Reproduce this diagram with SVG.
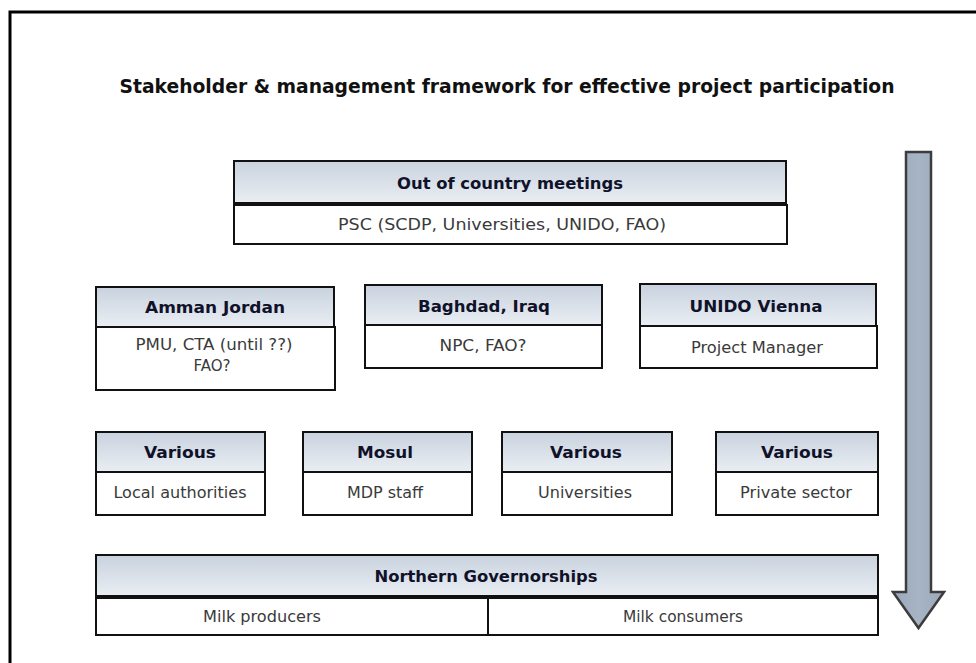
<svg xmlns="http://www.w3.org/2000/svg" width="976" height="663" viewBox="0 0 976 663">
  <defs>
    <linearGradient id="hdr" x1="0" y1="0" x2="0" y2="1">
      <stop offset="0" stop-color="#c8d2de"/>
      <stop offset="1" stop-color="#eaeef3"/>
    </linearGradient>
    <linearGradient id="arrowFill" x1="0" y1="0" x2="1" y2="0">
      <stop offset="0" stop-color="#9aa9bb"/>
      <stop offset="0.5" stop-color="#a7b4c4"/>
      <stop offset="1" stop-color="#9aa9bb"/>
    </linearGradient>
  </defs>
  <style>
    .hd { fill: url(#hdr); stroke: #111; stroke-width: 2; }
    .bd { fill: #fff; stroke: #111; stroke-width: 2; }
    .ht { font-family: "DejaVu Sans Condensed", "DejaVu Sans", sans-serif; font-weight: bold; font-size: 16px; fill: #10122a; text-anchor: middle; }
    .bt { font-family: "DejaVu Sans Condensed", "DejaVu Sans", sans-serif; font-size: 15px; fill: #3a3a3a; text-anchor: middle; }
    .title { font-family: "DejaVu Sans Condensed", "DejaVu Sans", sans-serif; font-weight: bold; font-size: 20px; fill: #111; text-anchor: middle; }
  </style>

  <rect width="976" height="663" fill="#fff"/>
  <!-- outer frame (open to the right and bottom) -->
  <path d="M10,663 V12 H976" fill="none" stroke="#000" stroke-width="3"/>

  <text class="title" x="507" y="93" textLength="775" lengthAdjust="spacingAndGlyphs">Stakeholder  &amp; management  framework for effective  project participation</text>

  <g id="out-of-country">
    <rect class="hd" x="234" y="161" width="552" height="42"/>
    <rect class="bd" x="234" y="205" width="553" height="39"/>
    <text class="ht" x="510" y="189" textLength="226" lengthAdjust="spacingAndGlyphs">Out of country meetings</text>
    <text class="bt" x="502" y="230" textLength="328" lengthAdjust="spacingAndGlyphs">PSC (SCDP, Universities, UNIDO,  FAO)</text>
  </g>

  <g id="amman">
    <rect class="hd" x="96" y="287" width="238" height="40"/>
    <rect class="bd" x="96" y="327" width="239" height="63"/>
    <text class="ht" x="215" y="313" textLength="140" lengthAdjust="spacingAndGlyphs">Amman Jordan</text>
    <text class="bt" x="214" y="350" textLength="157" lengthAdjust="spacingAndGlyphs">PMU, CTA (until ??)</text>
    <text class="bt" x="212" y="371" textLength="37" lengthAdjust="spacingAndGlyphs">FAO?</text>
  </g>

  <g id="baghdad">
    <rect class="hd" x="365" y="285" width="237" height="40"/>
    <rect class="bd" x="365" y="325" width="237" height="43"/>
    <text class="ht" x="484" y="312" textLength="132" lengthAdjust="spacingAndGlyphs">Baghdad, Iraq</text>
    <text class="bt" x="483" y="351" textLength="87" lengthAdjust="spacingAndGlyphs">NPC, FAO?</text>
  </g>

  <g id="unido-vienna">
    <rect class="hd" x="640" y="284" width="236" height="42"/>
    <rect class="bd" x="640" y="326" width="237" height="42"/>
    <text class="ht" x="756" y="312" textLength="133" lengthAdjust="spacingAndGlyphs">UNIDO Vienna</text>
    <text class="bt" x="757" y="353" textLength="132" lengthAdjust="spacingAndGlyphs">Project Manager</text>
  </g>

  <g id="local-authorities">
    <rect class="hd" x="96" y="432" width="169" height="40"/>
    <rect class="bd" x="96" y="472" width="169" height="43"/>
    <text class="ht" x="180" y="458" textLength="72" lengthAdjust="spacingAndGlyphs">Various</text>
    <text class="bt" x="180" y="498" textLength="133" lengthAdjust="spacingAndGlyphs">Local authorities</text>
  </g>

  <g id="mosul">
    <rect class="hd" x="303" y="432" width="169" height="40"/>
    <rect class="bd" x="303" y="472" width="169" height="43"/>
    <text class="ht" x="385" y="458" textLength="56" lengthAdjust="spacingAndGlyphs">Mosul</text>
    <text class="bt" x="385" y="498" textLength="76" lengthAdjust="spacingAndGlyphs">MDP staff</text>
  </g>

  <g id="universities">
    <rect class="hd" x="502" y="432" width="170" height="40"/>
    <rect class="bd" x="502" y="472" width="170" height="43"/>
    <text class="ht" x="586" y="458" textLength="72" lengthAdjust="spacingAndGlyphs">Various</text>
    <text class="bt" x="585" y="498" textLength="94" lengthAdjust="spacingAndGlyphs">Universities</text>
  </g>

  <g id="private-sector">
    <rect class="hd" x="716" y="432" width="162" height="40"/>
    <rect class="bd" x="716" y="472" width="162" height="43"/>
    <text class="ht" x="797" y="458" textLength="72" lengthAdjust="spacingAndGlyphs">Various</text>
    <text class="bt" x="796" y="498" textLength="112" lengthAdjust="spacingAndGlyphs">Private sector</text>
  </g>

  <g id="northern-governorships">
    <rect class="hd" x="96" y="555" width="782" height="41"/>
    <rect class="bd" x="96" y="598" width="782" height="37"/>
    <line x1="488" y1="598" x2="488" y2="635" stroke="#111" stroke-width="2"/>
    <text class="ht" x="486" y="582" textLength="223" lengthAdjust="spacingAndGlyphs">Northern Governorships</text>
    <text class="bt" x="262" y="622" textLength="118" lengthAdjust="spacingAndGlyphs">Milk producers</text>
    <text class="bt" x="683" y="622" textLength="120" lengthAdjust="spacingAndGlyphs">Milk consumers</text>
  </g>

  <g id="connectors">
    <!-- downward flow arrow along the right side -->
    <path d="M906,152 H931 V592 H944 L918.5,628 L893,592 H906 Z" fill="url(#arrowFill)" stroke="#3c3c3c" stroke-width="2.5" stroke-linejoin="miter"/>
  </g>
</svg>
